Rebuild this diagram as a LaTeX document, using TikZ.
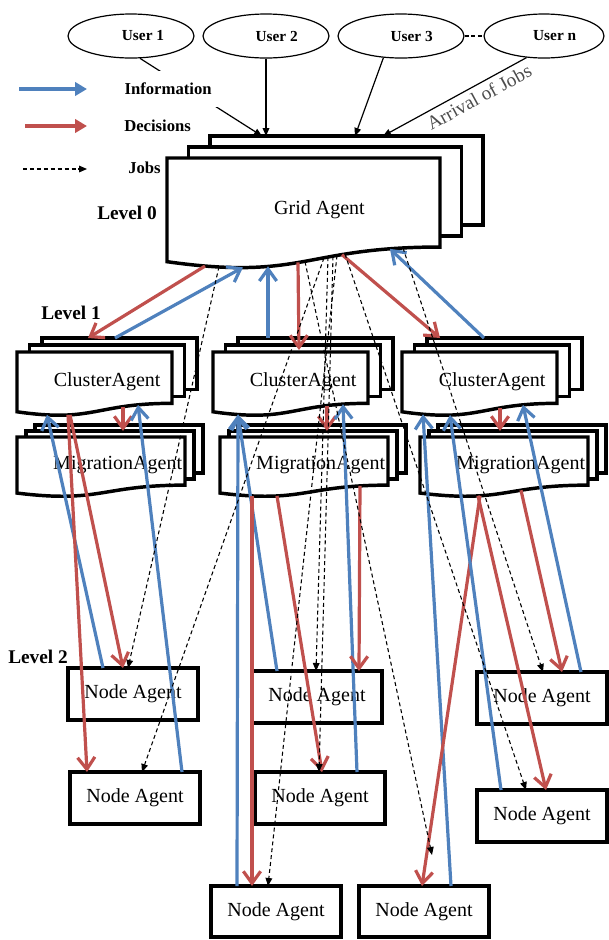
\documentclass[tikz,border=0pt]{standalone}
\usepackage{fontspec}
\setmainfont{Liberation Serif}
\usetikzlibrary{arrows.meta,calc,shapes.geometric}

\definecolor{infoblue}{HTML}{4F81BD}
\definecolor{decired}{HTML}{C0504D}

% document shape: x, y (top left), width, height
\newcommand{\docshape}[4]{%
  \filldraw[box] (#1,#2) -- ({#1+#3},#2) -- ({#1+#3},{#2+0.802*#4})
    .. controls ({#1+0.5*#3},{#2+0.802*#4}) and ({#1+0.5*#3},{#2+1.1075*#4})
    .. (#1,{#2+0.934*#4}) -- cycle;}
% stack of three: x, y, w, h, dx, dy, name, text
\newcommand{\docstack}[8]{%
  \filldraw[box] ({#1+2*#5},{#2-2*#6}) rectangle ++(#3,{0.802*#4});
  \filldraw[box] ({#1+#5},{#2-#6}) rectangle ++(#3,{0.802*#4});
  \docshape{#1}{#2}{#3}{#4}
  \node[agent,anchor=north west,minimum width=#3*0.75pt,
    minimum height=0.934*#4*0.75pt] (#7) at (#1,#2) {#8};}

\begin{document}
\begin{tikzpicture}[x=0.75pt,y=-0.75pt,
  box/.style={draw=black,fill=white,line width=2.6pt,line join=miter},
  agent/.style={inner sep=0,outer sep=0,font=\fontsize{15}{18}\selectfont},
  nodebox/.style={draw,fill=white,line width=2.6pt,anchor=north west,
    minimum width=130*0.75pt,minimum height=52*0.75pt,inner sep=0,outer sep=0,
    font=\fontsize{15}{18}\selectfont},
  user/.style={ellipse,draw,fill=white,line width=0.9pt,inner sep=0,
    minimum width=126*0.75pt,minimum height=44*0.75pt,
    font=\bfseries\fontsize{11.5}{14}\selectfont},
  lab/.style={font=\bfseries\fontsize{12.5}{15}\selectfont,anchor=west,inner sep=0},
  lvl/.style={font=\bfseries\fontsize{14.5}{17}\selectfont,anchor=west,inner sep=0},
  info/.style={draw=infoblue,line width=2.4pt,-{Straight Barb[length=9pt,width=13pt]}},
  deci/.style={draw=decired,line width=2.4pt,-{Straight Barb[length=9pt,width=13pt]}},
  legend/.style={line width=3pt,-{Triangle[length=9pt,width=10pt]}},
  job/.style={line width=0.8pt,dash pattern=on 3pt off 2.2pt,
    -{Triangle[length=6pt,width=5pt]}},
  arrive/.style={line width=0.9pt,-{Triangle[length=6pt,width=5pt]}}]
  \useasboundingbox (0,0) rectangle (608,940);

  % users
  \node[user] (u1) at (131,36) {\hspace*{18pt}User 1};
  \node[user] (u2) at (266,36) {\hspace*{16pt}User 2};
  \node[user] (u3) at (401,36) {\hspace*{16pt}User 3};
  \node[user,minimum width=120*0.75pt] (un) at (544,36) {\hspace*{16pt}User n};
  \draw[line width=0.9pt,densely dashed] (u3.east) -- (un.west);

  % agents
  \docstack{167}{158}{273}{111}{21.5}{11}{grid}{\hspace*{24pt}Grid Agent}
  \docstack{17}{352}{155}{64}{12.5}{7}{cl1}{\hspace*{19pt}ClusterAgent}
  \docstack{213}{352}{155}{64}{12.5}{7}{cl2}{\hspace*{19pt}ClusterAgent}
  \docstack{402}{352}{155}{64}{12.5}{7}{cl3}{\hspace*{19pt}ClusterAgent}
  \docstack{17}{437}{168}{60}{9}{6}{mg1}{\hspace*{25pt}MigrationAgent}
  \docstack{220}{437}{168}{60}{9}{6}{mg2}{\hspace*{25pt}MigrationAgent}
  \docstack{420}{437}{168}{60}{9}{6}{mg3}{\hspace*{25pt}MigrationAgent}

  \node[nodebox] (na1) at (68,668) {Node Agent};
  \node[nodebox] (na2) at (70,772) {Node Agent};
  \node[nodebox] (nb1) at (252,671) {Node Agent};
  \node[nodebox] (nb2) at (255,772) {Node Agent};
  \node[nodebox,minimum height=51*0.75pt] (nb3) at (211,886) {Node Agent};
  \node[nodebox,minimum height=51*0.75pt] (nb4) at (359,886) {Node Agent};
  \node[nodebox] (nc1) at (477,672) {Node Agent};
  \node[nodebox] (nc2) at (477,790) {Node Agent};

  % arrival of jobs
  \draw[arrive] (u1.-68) -- ($(grid.north west)+(95,-22)$);
  \draw[arrive] (u2.south) -- ($(grid.north west)+(99,-22)$);
  \draw[arrive] (u3.-129) -- ($(grid.north west)+(188,-22)$);
  \draw[arrive] (un.-129) -- ($(grid.north west)+(216,-22)$)
    node[pos=0.37,sloped,below,text=black!70,font=\fontsize{14.5}{17}\selectfont]
    {Arrival of Jobs};

  % grid <-> clusters
  \draw[deci] ($(grid.south west)+(38,4.4)$) -- ($(cl1.north west)+(71,-14)$);
  \draw[info] ($(cl1.north west)+(98,-14)$) -- ($(grid.south west)+(76,5.7)$);
  \draw[info] ($(cl2.north west)+(55,-14)$) -- ($(grid.south west)+(101,4.6)$);
  \draw[deci] ($(grid.south west)+(131,0.7)$) -- ($(cl2.north west)+(86,-2)$);
  \draw[deci] ($(grid.south west)+(175,-7)$) -- ($(cl3.north west)+(38,-14)$);
  \draw[info] ($(cl3.north west)+(82,-14)$) -- ($(grid.south west)+(223,-12.8)$);

  % clusters -> migration
  \draw[deci] ($(cl1.south west)+(106,-5.1)$) -- ($(mg1.north west)+(106,-6)$);
  \draw[deci] ($(cl2.south west)+(114,-6.2)$) -- ($(mg2.north west)+(107,-6)$);
  \draw[deci] ($(cl3.south west)+(98,-3.8)$) -- ($(mg3.north west)+(80,-6)$);

  % left group
  \draw[info] ($(na1.north west)+(35,0)$) -- ($(cl1.south west)+(30,2.9)$);
  \draw[deci] ($(cl1.south west)+(51,3.1)$) -- ($(na2.north west)+(17,0)$);
  \draw[deci] ($(cl1.south west)+(53,3.1)$) -- ($(na1.north west)+(55,0)$);
  \draw[info] ($(na2.north west)+(112,0)$) -- ($(cl1.south west)+(121,-6.9)$);

  % middle group
  \draw[info] ($(nb3.north west)+(26,0)$) -- ($(cl2.south west)+(25,2.7)$);
  \draw[info] ($(nb1.north west)+(25,0)$) -- ($(cl2.south west)+(25,2.7)$);
  \draw[deci] ($(mg2.south west)+(32,2.8)$) -- ($(nb3.north west)+(41,0)$);
  \draw[deci] ($(mg2.south west)+(57,2.9)$) -- ($(nb2.north west)+(67,0)$);
  \draw[info] ($(nb2.north west)+(102,0)$) -- ($(cl2.south west)+(130,-7.6)$);
  \draw[deci] ($(mg2.south west)+(140,-7.1)$) -- ($(nb1.north west)+(107,0)$);

  % right group
  \draw[info] ($(nb4.north west)+(92,0)$) -- ($(cl3.south west)+(21,2.5)$);
  \draw[deci] ($(mg3.south west)+(60,2.7)$) -- ($(nb4.north west)+(63,0)$);
  \draw[deci] ($(mg3.south west)+(58,2.7)$) -- ($(nc2.north west)+(69,0)$);
  \draw[info] ($(nc2.north west)+(24,0)$) -- ($(cl3.south west)+(48,3.2)$);
  \draw[info] ($(nc1.north west)+(104,0)$) -- ($(cl3.south west)+(121,-6.9)$);
  \draw[deci] ($(mg3.south west)+(101,-2.8)$) -- ($(nc1.north west)+(85,0)$);

  % jobs
  \draw[job] ($(grid.south west)+(52,5)$) -- ($(na1.north west)+(60,0)$);
  \draw[job] ($(grid.south west)+(157,-3.8)$) -- ($(na2.north west)+(72,0)$);
  \draw[job] ($(grid.south west)+(161,-4.6)$) -- ($(nb1.north west)+(64,0)$);
  \draw[job] ($(grid.south west)+(166,-5.4)$) -- ($(nb2.north west)+(64,0)$);
  \draw[job] ($(grid.south west)+(170,-6.2)$) -- ($(nb3.north west)+(57,0)$);
  \draw[job] ($(grid.south west)+(138,0)$) -- ($(nb4.north west)+(73,-31)$);
  \draw[job] ($(grid.south west)+(178,-7.6)$) -- ($(nc2.north west)+(49,0)$);
  \draw[job] ($(grid.south west)+(236,-13.8)$) -- ($(nc1.north west)+(66,0)$);

  % legend and levels
  \coordinate (lgb0) at (19,89);  \coordinate (lgb1) at (87,89);
  \coordinate (lgr0) at (25,126); \coordinate (lgr1) at (87,126);
  \coordinate (lgj0) at (23,169); \coordinate (lgj1) at (87,169);
  \draw[legend,draw=infoblue,fill=infoblue] (lgb0) -- (lgb1);
  \draw[legend,draw=decired,fill=decired] (lgr0) -- (lgr1);
  \draw[job] (lgj0) -- (lgj1);
  \node[lab,fill=white,inner xsep=7pt,inner ysep=9pt] (inflab) at (115,89) {Information};
  \node[lab] (declab) at (124,126) {Decisions};
  \node[lab] (joblab) at (128,168) {Jobs};
  \node[lvl] (lv0) at (97,213) {Level 0};
  \node[lvl] (lv1) at (41,313) {Level 1};
  \node[lvl] (lv2) at (8,657) {Level 2};
\end{tikzpicture}
\end{document}
